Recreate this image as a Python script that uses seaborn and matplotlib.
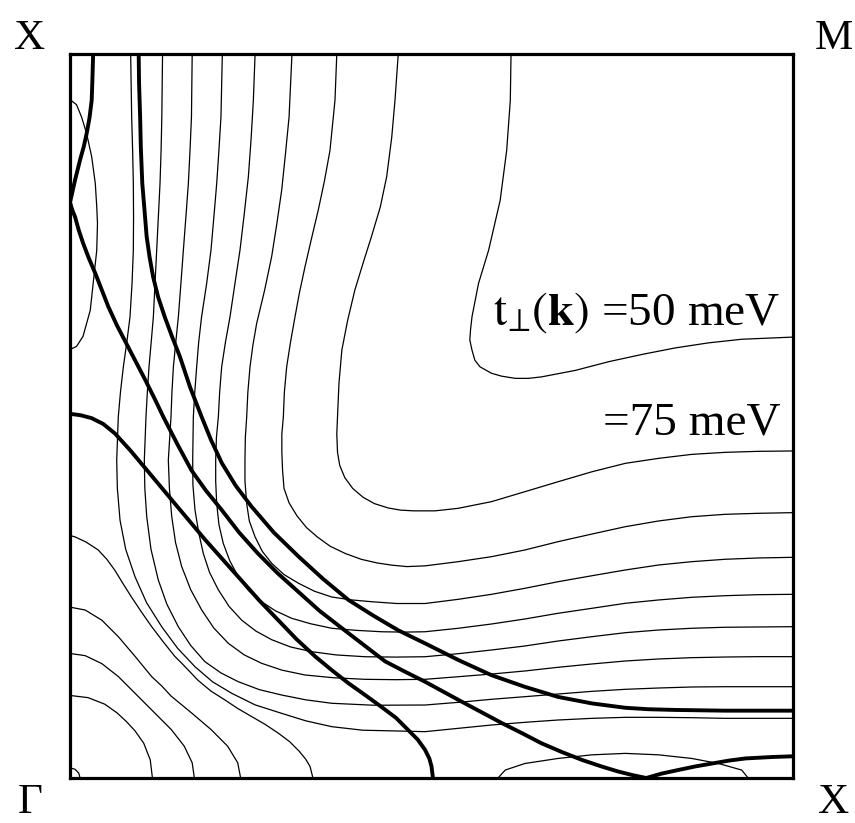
import matplotlib
matplotlib.use("Agg")
import matplotlib.pyplot as plt
import seaborn as sns
import pandas as pd

sns.set_theme(style="white")
plt.rcParams['font.family'] = ['Liberation Serif', 'DejaVu Serif']
plt.rcParams['mathtext.fontset'] = 'stix'
plt.rcParams['text.color'] = 'black'

# ---- thin contours of t_perp(k) (kx, ky in units of pi), levels in meV ----
L50 = [(0.610,1.0),(0.609,0.936),(0.604,0.867),(0.595,0.798),(0.579,0.729),(0.565,0.683),
       (0.556,0.637),(0.554,0.619),(0.553,0.605),(0.556,0.591),(0.560,0.577),(0.567,0.568),
       (0.583,0.559),(0.597,0.555),(0.616,0.552),(0.634,0.552),(0.652,0.554),
       (0.699,0.563),(0.745,0.575),(0.791,0.585),(0.837,0.594),(0.883,0.601),(0.929,0.606),(1.0,0.609)]
L75 = [(0.454,1.0),(0.4495,0.936),(0.445,0.885),(0.438,0.8305),(0.429,0.788),(0.417,0.748),
       (0.405,0.710),(0.394,0.674),(0.384,0.632),(0.376,0.591),(0.372,0.545),
       (0.370,0.499),(0.369,0.475),(0.370,0.45),(0.373,0.432),(0.380,0.415),(0.391,0.400),
       (0.405,0.388),(0.421,0.379),(0.440,0.373),(0.457,0.370),(0.475,0.369),
       (0.505,0.369),(0.537,0.3725),(0.583,0.3817),(0.629,0.3954),(0.675,0.4092),(0.722,0.423),
       (0.768,0.4346),(0.814,0.4415),(0.860,0.447),(0.906,0.4498),(0.952,0.4512),(1.0,0.4517)]
L100 = [(0.369,1.0),(0.3665,0.936),(0.3596,0.867),(0.352,0.825),(0.3435,0.785),(0.334,0.745),
        (0.325,0.706),(0.3175,0.671),(0.3112,0.637),(0.305,0.602),(0.2997,0.568),(0.2965,0.533),
        (0.2951,0.499),(0.293,0.475),(0.293,0.45),(0.294,0.425),(0.296,0.40),
        (0.303,0.380),(0.314,0.362),(0.327,0.346),(0.342,0.333),(0.360,0.320),(0.381,0.310),
        (0.403,0.302),(0.425,0.297),(0.445,0.294),(0.466,0.292),(0.491,0.293),(0.537,0.2988),
        (0.583,0.3057),(0.629,0.3149),(0.675,0.3264),(0.722,0.337),(0.768,0.3471),(0.814,0.355),
        (0.860,0.3609),(0.906,0.3642),(0.952,0.3656),(1.0,0.3665)]
L125 = [(0.307,1.0),(0.303,0.913),(0.298,0.862),(0.2928,0.812),(0.286,0.765),(0.2789,0.720),
        (0.269,0.673),(0.2582,0.628),(0.253,0.598),(0.249,0.568),(0.246,0.533),
        (0.2444,0.499),(0.2425,0.47),(0.242,0.439),(0.242,0.41),(0.2444,0.379),(0.248,0.355),
        (0.256,0.333),(0.266,0.313),(0.279,0.2965),(0.296,0.281),(0.316,0.269),(0.338,0.258),
        (0.362,0.250),(0.389,0.246),(0.417,0.2435),(0.452,0.241),(0.491,0.241),(0.537,0.2468),
        (0.583,0.2537),(0.629,0.262),(0.675,0.2711),(0.722,0.2794),(0.768,0.2873),(0.814,0.2942),
        (0.860,0.2988),(0.906,0.3021),(0.952,0.3039),(1.0,0.3048)]
L150 = [(0.256,1.0),(0.2536,0.936),(0.2505,0.883),(0.2467,0.8305),(0.241,0.779),(0.2351,0.729),
        (0.228,0.682),(0.2213,0.637),(0.215,0.602),(0.2098,0.568),(0.207,0.533),
        (0.2052,0.499),(0.2025,0.47),(0.2015,0.439),(0.2015,0.41),(0.2029,0.379),(0.206,0.35),
        (0.212,0.324),(0.221,0.30),(0.2328,0.278),(0.247,0.259),(0.265,0.2435),(0.284,0.231),
        (0.3066,0.2206),(0.333,0.213),(0.362,0.2068),(0.395,0.204),(0.431,0.202),(0.462,0.2015),
        (0.491,0.202),(0.537,0.2068),(0.583,0.2127),(0.629,0.2196),(0.675,0.2275),(0.722,0.2344),
        (0.768,0.2413),(0.814,0.2459),(0.860,0.2496),(0.906,0.2518),(0.952,0.2532),(1.0,0.2537)]
L175 = [(0.2107,1.0),(0.2088,0.913),(0.206,0.867),(0.2029,0.821),(0.199,0.775),(0.195,0.729),
        (0.189,0.683),(0.182,0.637),(0.178,0.602),(0.1752,0.568),(0.1726,0.533),
        (0.1706,0.499),(0.1697,0.439),(0.170,0.405),(0.1729,0.370),(0.178,0.339),(0.1844,0.310),
        (0.193,0.284),(0.2051,0.260),(0.220,0.237),(0.2375,0.218),(0.257,0.203),(0.279,0.191),
        (0.305,0.181),(0.334,0.1745),(0.368,0.170),(0.408,0.1675),(0.450,0.167),(0.491,0.1675),
        (0.537,0.1717),(0.583,0.1768),(0.629,0.1823),(0.675,0.1892),(0.722,0.1952),(0.768,0.2007),
        (0.814,0.2044),(0.860,0.2068),(0.906,0.2082),(0.952,0.2086),(1.0,0.209)]
L200 = [(0.169,1.0),(0.168,0.913),(0.166,0.867),(0.1637,0.821),(0.1603,0.775),(0.1568,0.729),
        (0.1534,0.683),(0.1499,0.637),(0.1463,0.602),(0.143,0.568),(0.141,0.533),
        (0.1397,0.499),(0.136,0.439),(0.1375,0.40),(0.1407,0.361),(0.146,0.325),(0.1545,0.292),
        (0.167,0.260),(0.1822,0.232),(0.199,0.207),(0.219,0.186),(0.241,0.170),(0.2651,0.1584),
        (0.293,0.149),(0.325,0.1423),(0.364,0.1385),(0.408,0.1363),(0.450,0.1358),(0.491,0.1363),
        (0.537,0.1399),(0.583,0.1436),(0.629,0.1478),(0.675,0.1529),(0.722,0.1575),(0.768,0.1616),
        (0.814,0.1644),(0.860,0.1662),(0.906,0.1671),(0.952,0.1676),(1.0,0.1676)]
L225 = [(0.128,1.0),(0.127,0.913),(0.126,0.867),(0.1245,0.821),(0.1222,0.775),(0.1199,0.729),
        (0.1176,0.683),(0.1153,0.637),(0.1123,0.602),(0.1093,0.568),(0.107,0.533),
        (0.1051,0.499),(0.1028,0.439),(0.1035,0.40),(0.1061,0.361),(0.112,0.316),(0.1221,0.2735),
        (0.134,0.240),(0.1498,0.209),(0.167,0.183),(0.1867,0.1606),(0.209,0.145),(0.2328,0.133),
        (0.262,0.122),(0.2928,0.1146),(0.326,0.108),(0.362,0.1032),(0.42,0.1005),(0.491,0.1008),
        (0.537,0.1045),(0.583,0.1087),(0.629,0.1123),(0.675,0.116),(0.722,0.1197),(0.768,0.1225),
        (0.814,0.1243),(0.860,0.1257),(0.906,0.1261),(0.952,0.1261),(1.0,0.1261)]
L250 = [(0.0839,1.0),(0.0853,0.913),(0.0866,0.867),(0.0876,0.821),(0.0879,0.775),(0.0876,0.729),
        (0.0858,0.683),(0.083,0.637),(0.0786,0.602),(0.0738,0.568),(0.0698,0.533),
        (0.0668,0.499),(0.0646,0.439),(0.0655,0.40),(0.0692,0.356),(0.077,0.316),(0.0899,0.278),
        (0.106,0.242),(0.1268,0.209),(0.149,0.179),(0.1729,0.1537),(0.197,0.133),(0.2236,0.117),
        (0.256,0.101),(0.2928,0.0893),(0.326,0.079),(0.362,0.0709),(0.405,0.066),(0.454,0.0649),
        (0.491,0.064),(0.537,0.0686),(0.583,0.0732),(0.629,0.0769),(0.675,0.0801),(0.722,0.0824),
        (0.768,0.0838),(0.814,0.0838),(0.860,0.0833),(0.906,0.0824),(0.952,0.0824),(1.0,0.0824)]
# contours around Gamma
G250 = [(0.0,0.335),(0.007,0.333),(0.022,0.326),(0.039,0.315),(0.051,0.302),(0.062,0.287),
        (0.073,0.269),(0.085,0.250),(0.099,0.229),(0.113,0.209),(0.129,0.188),(0.145,0.168),
        (0.157,0.156),(0.177,0.135),(0.195,0.120),(0.214,0.108),(0.232,0.096),(0.251,0.085),
        (0.270,0.074),(0.288,0.062),(0.304,0.050),(0.317,0.037),(0.326,0.026),(0.332,0.016),(0.336,0.0)]
G225 = [(0.0,0.236),(0.021,0.232),(0.044,0.218),(0.067,0.195),(0.090,0.168),(0.113,0.140),
        (0.127,0.127),(0.140,0.113),(0.168,0.090),(0.195,0.067),(0.218,0.044),(0.232,0.021),(0.236,0.0)]
G200 = [(0.0,0.172),(0.021,0.169),(0.044,0.158),(0.067,0.140),(0.090,0.117),(0.104,0.103),
        (0.117,0.090),(0.140,0.067),(0.158,0.044),(0.169,0.021),(0.172,0.0)]
G175 = [(0.0,0.114),(0.025,0.111),(0.048,0.102),(0.065,0.090),(0.078,0.078),(0.090,0.065),
        (0.102,0.048),(0.111,0.025),(0.114,0.0)]
G150 = [(0.0,0.014),(0.007,0.012),(0.012,0.007),(0.014,0.0)]
# small pockets near the X points
PX1 = [(0.0,0.937),(0.009,0.930),(0.016,0.913),(0.023,0.890),(0.030,0.858),(0.035,0.821),
       (0.037,0.789),(0.038,0.766),(0.037,0.729),(0.033,0.692),(0.028,0.646),(0.018,0.610),
       (0.009,0.596),(0.0,0.592)]
PX2 = [(0.592,0.0),(0.602,0.011),(0.629,0.020),(0.675,0.027),(0.722,0.032),(0.768,0.034),
       (0.814,0.032),(0.860,0.027),(0.897,0.020),(0.929,0.011),(0.938,0.0)]

# ---- thick Fermi-surface curves ----
FS1 = [(0.032,1.0),(0.031,0.965),(0.030,0.936),(0.027,0.912),(0.023,0.890),(0.019,0.872),
       (0.014,0.854),(0.007,0.826),(0.003,0.808),(0.0,0.795),(0.003,0.785),(0.007,0.775),
       (0.012,0.757),(0.018,0.739),(0.026,0.718),(0.035,0.697),(0.053,0.651),(0.065,0.625),
       (0.078,0.600),(0.091,0.575),(0.104,0.550),(0.117,0.524),(0.129,0.499),(0.148,0.462),
       (0.168,0.425),(0.188,0.397),(0.210,0.370),(0.234,0.339),(0.260,0.310),(0.287,0.283),
       (0.316,0.257),(0.345,0.231),(0.376,0.207),(0.406,0.184),(0.436,0.161),(0.463,0.147),
       (0.491,0.133),(0.537,0.108),(0.567,0.092),(0.597,0.076),(0.625,0.062),(0.652,0.048),
       (0.680,0.036),(0.708,0.025),(0.735,0.016),(0.758,0.009),(0.778,0.004),(0.797,0.0),
       (0.818,0.006),(0.841,0.011),(0.865,0.016),(0.888,0.020),(0.911,0.024),(0.934,0.027),
       (0.971,0.029),(1.0,0.030)]
FS2 = [(0.095,1.0),(0.0955,0.96),(0.097,0.913),(0.098,0.87),(0.100,0.821),(0.103,0.785),
       (0.106,0.748),(0.110,0.72),(0.115,0.692),(0.122,0.664),(0.131,0.637),(0.141,0.610),
       (0.152,0.582),(0.166,0.540),(0.182,0.499),(0.195,0.467),(0.210,0.435),(0.229,0.404),
       (0.251,0.375),(0.282,0.339),(0.316,0.306),(0.350,0.275),(0.385,0.246),(0.420,0.224),
       (0.454,0.204),(0.491,0.186),(0.537,0.163),(0.583,0.142),(0.629,0.126),(0.675,0.112),
       (0.722,0.103),(0.768,0.097),(0.80,0.095),(0.837,0.094),(0.906,0.093),(1.0,0.093)]
FS3 = [(0.0,0.503),(0.015,0.501),(0.030,0.497),(0.046,0.489),(0.062,0.476),(0.083,0.453),
       (0.104,0.428),(0.125,0.403),(0.145,0.379),(0.166,0.354),(0.187,0.329),(0.212,0.301),
       (0.237,0.273),(0.262,0.245),(0.288,0.218),(0.313,0.192),(0.339,0.168),(0.362,0.149),
       (0.385,0.131),(0.409,0.114),(0.431,0.098),(0.451,0.083),(0.468,0.066),(0.481,0.053),
       (0.491,0.039),(0.497,0.027),(0.500,0.016),(0.502,0.0)]

corner_labels = ["X", "M", "\u0393", "X"]
label_50 = r"$\mathrm{t}_{\!\perp}\!(\mathbf{k})$ =50 meV"
label_75 = "=75 meV"

thin = {"L50": L50, "L75": L75, "L100": L100, "L125": L125, "L150": L150, "L175": L175,
        "L200": L200, "L225": L225, "L250": L250, "G250": G250, "G225": G225, "G200": G200,
        "G175": G175, "G150": G150, "PX1": PX1, "PX2": PX2}
thick = {"FS1": FS1, "FS2": FS2, "FS3": FS3}


def to_frame(curves):
    rows = []
    for name, pts in curves.items():
        for i, (x, y) in enumerate(pts):
            rows.append((name, i, x, y))
    return pd.DataFrame(rows, columns=["curve", "order", "kx", "ky"])


df_thin = to_frame(thin)
df_thick = to_frame(thick)

fig = plt.figure(figsize=(8.55, 8.23), dpi=100)
ax = fig.add_axes([70 / 855, 1 - 778 / 823, 723 / 855, 724 / 823])

sns.lineplot(data=df_thin, x="kx", y="ky", units="curve", estimator=None, sort=False,
             color="black", lw=0.9, solid_joinstyle="round", ax=ax)
sns.lineplot(data=df_thick, x="kx", y="ky", units="curve", estimator=None, sort=False,
             color="black", lw=2.8, solid_joinstyle="round", ax=ax)

ax.set_xlim(0, 1)
ax.set_ylim(0, 1)
ax.set_xticks([])
ax.set_yticks([])
ax.set_xlabel("")
ax.set_ylabel("")
for s in ax.spines.values():
    s.set_visible(True)
    s.set_color("black")
    s.set_linewidth(2.3)

ax.text(0.983, 0.626, label_50, ha="right", va="baseline", fontsize=34, color="black")
ax.text(0.983, 0.474, label_75, ha="right", va="baseline", fontsize=34, color="black")

fs = 31
fig.text(29.5 / 855, 1 - 49 / 823, corner_labels[0], ha="center", va="baseline", fontsize=fs)
fig.text(834 / 855, 1 - 49 / 823, corner_labels[1], ha="center", va="baseline", fontsize=fs)
fig.text(29.7 / 855, 1 - 813 / 823, corner_labels[2], ha="center", va="baseline", fontsize=fs)
fig.text(834 / 855, 1 - 813 / 823, corner_labels[3], ha="center", va="baseline", fontsize=fs)

fig.savefig("out.png", dpi=100)
